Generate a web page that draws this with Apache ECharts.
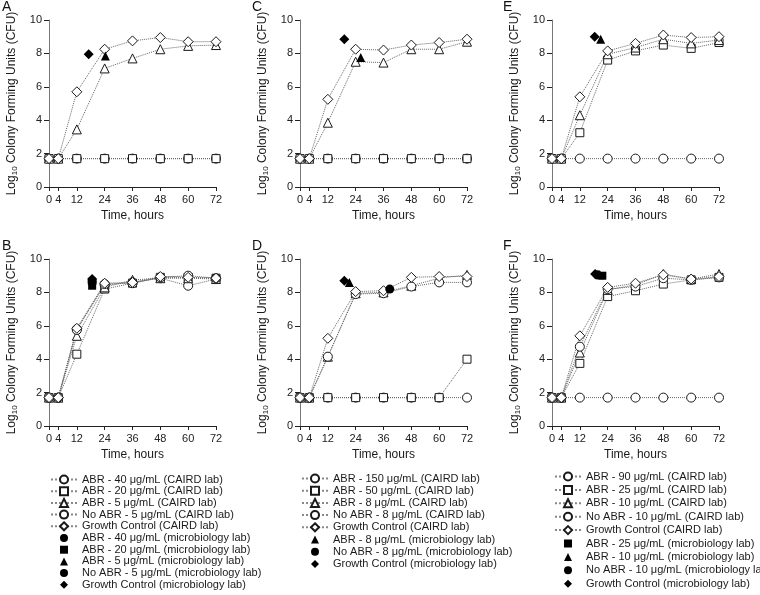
<!DOCTYPE html>
<html><head><meta charset="utf-8">
<script src="https://cdn.jsdelivr.net/npm/echarts@6/dist/echarts.min.js"></script>
<style>html,body{margin:0;padding:0;background:#fff}#c{width:760px;height:595px}</style>
</head><body><div id="c"></div>
<script>
// ---- data ----
const hours = [0, 4, 12, 24, 36, 48, 60, 72];
const xTickLabels = [0, 4, 12, 24, 36, 48, 60, 72];
const yTicks = [0, 2, 4, 6, 8, 10];
const panelLetters = ['A', 'B', 'C', 'D', 'E', 'F'];

// Panel A
const A_abr40 = [1.7, 1.7, 1.7, 1.7, 1.7, 1.7, 1.7, 1.7];
const A_abr20 = [1.7, 1.7, 1.7, 1.7, 1.7, 1.7, 1.7, 1.7];
const A_abr5 = [1.7, 1.7, 3.45, 7.1, 7.7, 8.25, 8.45, 8.5];
const A_gc = [1.7, 1.7, 5.7, 8.25, 8.75, 8.95, 8.7, 8.7];
const A_micro_abr5 = [[24.3, 7.85]];
const A_micro_gc = [[17.1, 7.95]];

// Panel B
const B_abr40 = [1.7, 1.7, 5.8, 8.45, 8.6, 8.85, 8.4, 8.8];
const B_abr20 = [1.7, 1.7, 4.3, 8.2, 8.55, 8.9, 8.9, 8.85];
const B_abr5 = [1.7, 1.7, 5.4, 8.3, 8.75, 8.85, 8.85, 8.8];
const B_noabr = [1.7, 1.7, 5.75, 8.5, 8.55, 8.9, 9.0, 8.85];
const B_gc = [1.7, 1.7, 5.85, 8.55, 8.6, 8.95, 8.9, 8.85];
const B_micro_abr40 = [[18.6, 8.6]];
const B_micro_abr20 = [[18.6, 8.4]];
const B_micro_abr5 = [[18.6, 8.75]];
const B_micro_noabr = [[18.6, 8.7]];
const B_micro_gc = [[18.6, 8.8]];

// Panel C
const C_abr150 = [1.7, 1.7, 1.7, 1.7, 1.7, 1.7, 1.7, 1.7];
const C_abr50 = [1.7, 1.7, 1.7, 1.7, 1.7, 1.7, 1.7, 1.7];
const C_abr8 = [1.7, 1.7, 3.85, 7.5, 7.45, 8.25, 8.25, 8.7];
const C_gc = [1.7, 1.7, 5.25, 8.25, 8.2, 8.5, 8.65, 8.85];
const C_micro_abr8 = [[26.2, 7.75]];
const C_micro_gc = [[19.1, 8.85]];

// Panel D
const D_abr150 = [1.7, 1.7, 1.7, 1.7, 1.7, 1.7, 1.7, 1.7];
const D_abr50 = [1.7, 1.7, 1.7, 1.7, 1.7, 1.7, 1.7, 4.0];
const D_abr8 = [1.7, 1.7, 4.15, 7.95, 8.0, 8.4, 8.85, 9.05];
const D_noabr = [1.7, 1.7, 4.15, 7.9, 7.95, 8.35, 8.6, 8.6];
const D_gc = [1.7, 1.7, 5.25, 8.05, 8.1, 8.9, 8.95, 8.95];
const D_micro_abr8 = [[21.3, 8.6]];
const D_micro_noabr = [[38.7, 8.2]];
const D_micro_gc = [[19.1, 8.7]];

// Panel E
const E_abr90 = [1.7, 1.7, 1.7, 1.7, 1.7, 1.7, 1.7, 1.7];
const E_abr25 = [1.7, 1.7, 3.25, 7.6, 8.15, 8.5, 8.3, 8.65];
const E_abr10 = [1.7, 1.7, 4.3, 7.95, 8.35, 8.85, 8.6, 8.8];
const E_gc = [1.7, 1.7, 5.4, 8.15, 8.6, 9.1, 8.95, 9.0];
const E_micro_abr10 = [[21.0, 8.85]];
const E_micro_gc = [[18.4, 9.0]];

// Panel F
const F_abr90 = [1.7, 1.7, 1.7, 1.7, 1.7, 1.7, 1.7, 1.7];
const F_abr25 = [1.7, 1.7, 3.75, 7.75, 8.1, 8.5, 8.75, 8.9];
const F_abr10 = [1.7, 1.7, 4.4, 8.15, 8.45, 9.1, 8.8, 9.1];
const F_noabr = [1.7, 1.7, 4.75, 8.2, 8.35, 8.85, 8.75, 8.9];
const F_gc = [1.7, 1.7, 5.4, 8.3, 8.55, 9.05, 8.8, 8.95];
const F_micro_abr25 = [[21.7, 9.0]];
const F_micro_abr10 = [[20.6, 9.05]];
const F_micro_noabr = [[19.6, 9.05]];
const F_micro_gc = [[18.6, 9.1]];

// legend names
const legend1 = ['ABR - 40 μg/mL (CAIRD lab)', 'ABR - 20 μg/mL (CAIRD lab)', 'ABR - 5 μg/mL (CAIRD lab)', 'No ABR - 5 μg/mL (CAIRD lab)', 'Growth Control (CAIRD lab)',
  'ABR - 40 μg/mL (microbiology lab)', 'ABR - 20 μg/mL (microbiology lab)', 'ABR - 5 μg/mL (microbiology lab)', 'No ABR - 5 μg/mL (microbiology lab)', 'Growth Control (microbiology lab)'];
const legend2 = ['ABR - 150 μg/mL (CAIRD lab)', 'ABR - 50 μg/mL (CAIRD lab)', 'ABR - 8 μg/mL (CAIRD lab)', 'No ABR - 8 μg/mL (CAIRD lab)', 'Growth Control (CAIRD lab)',
  'ABR - 8 μg/mL (microbiology lab)', 'No ABR - 8 μg/mL (microbiology lab)', 'Growth Control (microbiology lab)'];
const legend3 = ['ABR - 90 μg/mL (CAIRD lab)', 'ABR - 25 μg/mL (CAIRD lab)', 'ABR - 10 μg/mL (CAIRD lab)', 'No ABR - 10 μg/mL (CAIRD lab)', 'Growth Control (CAIRD lab)',
  'ABR - 25 μg/mL (microbiology lab)', 'ABR - 10 μg/mL (microbiology lab)', 'No ABR - 10 μg/mL (microbiology lab)', 'Growth Control (microbiology lab)'];

// ---- layout ----
const FONT = 'Liberation Sans, Arial, sans-serif';
const gridPos = [
  {left: 49, top: 20}, {left: 49, top: 259},
  {left: 300, top: 20}, {left: 300, top: 259},
  {left: 552, top: 20}, {left: 552, top: 259}
];
const letterPos = [[2, 0], [2, 239], [252, 0], [252, 239], [503, 0], [503, 239]];

const symSize = {circle: 9, rect: 8, triangle: 9, diamond: 10};

function openLine(name, g, values, symbol) {
  return {
    type: 'line', name, xAxisIndex: g, yAxisIndex: g,
    data: hours.map((h, i) => [h, values[i]]),
    symbol, symbolSize: symSize[symbol],
    lineStyle: {type: 'dotted', color: '#666', width: 1},
    itemStyle: {color: '#fff', borderColor: '#1a1a1a', borderWidth: 1},
    z: 2, animation: false, silent: true
  };
}
function micro(name, g, pts, symbol) {
  return {
    type: 'line', name, xAxisIndex: g, yAxisIndex: g,
    data: pts, symbol, symbolSize: symSize[symbol],
    lineStyle: {opacity: 0, width: 0},
    itemStyle: {color: '#000', borderColor: '#000', borderWidth: 0},
    z: 5, animation: false, silent: true
  };
}

const series = [
  // A (grid 0)
  openLine(legend1[0], 0, A_abr40, 'circle'),
  openLine(legend1[1], 0, A_abr20, 'rect'),
  openLine(legend1[2], 0, A_abr5, 'triangle'),
  openLine(legend1[4], 0, A_gc, 'diamond'),
  micro(legend1[7], 0, A_micro_abr5, 'triangle'),
  micro(legend1[9], 0, A_micro_gc, 'diamond'),
  // B (grid 1)
  openLine(legend1[0], 1, B_abr40, 'circle'),
  openLine(legend1[1], 1, B_abr20, 'rect'),
  openLine(legend1[2], 1, B_abr5, 'triangle'),
  openLine(legend1[3], 1, B_noabr, 'circle'),
  openLine(legend1[4], 1, B_gc, 'diamond'),
  micro(legend1[5], 1, B_micro_abr40, 'circle'),
  micro(legend1[6], 1, B_micro_abr20, 'rect'),
  micro(legend1[7], 1, B_micro_abr5, 'triangle'),
  micro(legend1[8], 1, B_micro_noabr, 'circle'),
  micro(legend1[9], 1, B_micro_gc, 'diamond'),
  // C (grid 2)
  openLine(legend2[0], 2, C_abr150, 'circle'),
  openLine(legend2[1], 2, C_abr50, 'rect'),
  openLine(legend2[2], 2, C_abr8, 'triangle'),
  openLine(legend2[4], 2, C_gc, 'diamond'),
  micro(legend2[5], 2, C_micro_abr8, 'triangle'),
  micro(legend2[7], 2, C_micro_gc, 'diamond'),
  // D (grid 3)
  openLine(legend2[0], 3, D_abr150, 'circle'),
  openLine(legend2[1], 3, D_abr50, 'rect'),
  openLine(legend2[2], 3, D_abr8, 'triangle'),
  openLine(legend2[3], 3, D_noabr, 'circle'),
  openLine(legend2[4], 3, D_gc, 'diamond'),
  micro(legend2[5], 3, D_micro_abr8, 'triangle'),
  micro(legend2[6], 3, D_micro_noabr, 'circle'),
  micro(legend2[7], 3, D_micro_gc, 'diamond'),
  // E (grid 4)
  openLine(legend3[0], 4, E_abr90, 'circle'),
  openLine(legend3[1], 4, E_abr25, 'rect'),
  openLine(legend3[2], 4, E_abr10, 'triangle'),
  openLine(legend3[4], 4, E_gc, 'diamond'),
  micro(legend3[6], 4, E_micro_abr10, 'triangle'),
  micro(legend3[8], 4, E_micro_gc, 'diamond'),
  // F (grid 5)
  openLine(legend3[0], 5, F_abr90, 'circle'),
  openLine(legend3[1], 5, F_abr25, 'rect'),
  openLine(legend3[2], 5, F_abr10, 'triangle'),
  openLine(legend3[3], 5, F_noabr, 'circle'),
  openLine(legend3[4], 5, F_gc, 'diamond'),
  micro(legend3[5], 5, F_micro_abr25, 'rect'),
  micro(legend3[6], 5, F_micro_abr10, 'triangle'),
  micro(legend3[7], 5, F_micro_noabr, 'circle'),
  micro(legend3[8], 5, F_micro_gc, 'diamond')
];

const grid = gridPos.map(p => ({left: p.left, top: p.top, width: 167, height: 167, containLabel: false}));

const xAxis = gridPos.map((p, i) => ({
  type: 'value', gridIndex: i, min: 0, max: 72,
  name: 'Time, hours', nameLocation: 'middle', nameGap: 23,
  nameTextStyle: {fontFamily: FONT, fontSize: 12, color: '#1a1a1a'},
  axisLine: {show: true, onZero: false, lineStyle: {color: '#222', width: 1}},
  axisTick: {show: true, length: 4, customValues: xTickLabels, lineStyle: {color: '#222'}},
  axisLabel: {customValues: xTickLabels, fontFamily: FONT, fontSize: 11, color: '#222', margin: 7},
  splitLine: {show: false}
}));

const yAxis = gridPos.map((p, i) => ({
  type: 'value', gridIndex: i, min: 0, max: 10, interval: 2,
  name: '{a|Log}{s|10}{a| Colony Forming Units (CFU)}',
  nameLocation: 'middle', nameGap: 30, nameRotate: 90,
  nameTextStyle: {
    fontFamily: FONT, color: '#1a1a1a',
    rich: {
      a: {fontFamily: FONT, fontSize: 12, color: '#1a1a1a', lineHeight: 14},
      s: {fontFamily: FONT, fontSize: 8, color: '#1a1a1a', lineHeight: 14, verticalAlign: 'bottom', padding: [5, 0, 0, 0]}
    }
  },
  axisLine: {show: true, onZero: false, lineStyle: {color: '#777', width: 1}},
  axisTick: {show: true, length: 5, lineStyle: {color: '#222'}},
  axisLabel: {fontFamily: FONT, fontSize: 11, color: '#222', margin: 7},
  splitLine: {show: false}
}));

const title = panelLetters.map((L, i) => ({
  text: L, left: letterPos[i][0], top: letterPos[i][1], padding: 0,
  textStyle: {fontFamily: FONT, fontSize: 14, fontWeight: 'normal', color: '#111'}
}));

function mkLegend(data, left, top, gap) {
  return {
    data, orient: 'vertical', left, top, height: 140, itemWidth: 26, itemHeight: 10, itemGap: gap,
    selectedMode: false, padding: 0,
    lineStyle: {color: '#888'},
    textStyle: {fontFamily: FONT, fontSize: 11, color: '#1a1a1a', lineHeight: 10}
  };
}
const legend = [
  mkLegend(legend1, 50, 474, 0.7),
  mkLegend(legend2, 301, 473, 1.2),
  mkLegend(legend3, 554, 471, 2.4)
];

const chart = echarts.init(document.getElementById('c'), null, {renderer: 'canvas'});
chart.setOption({
  backgroundColor: '#fff', animation: false,
  title, grid, xAxis, yAxis, legend, series
});
</script></body></html>
